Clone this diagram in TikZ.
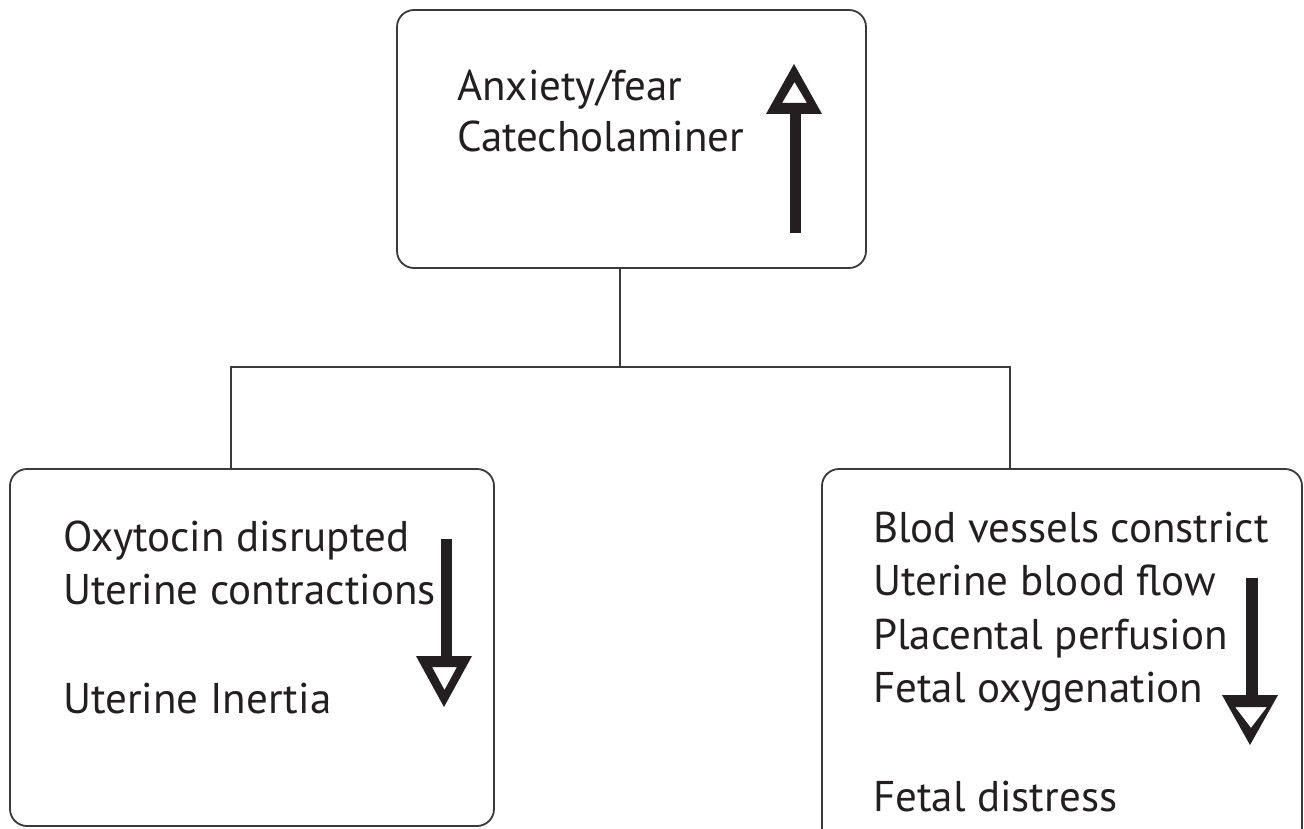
\documentclass[tikz,border=0pt]{standalone}
\usepackage{fontspec}
\setmainfont{PT Sans}
\definecolor{ink}{HTML}{231F20}
\definecolor{edge}{HTML}{3A3A3A}
\begin{document}
\begin{tikzpicture}[x=1pt,y=-1pt,
  box/.style={draw=edge, line width=1.8pt, rounded corners=17pt, rectangle, inner sep=0pt},
  txt/.style={anchor=base west, inner sep=0pt, text=ink, font=\fontsize{43}{50}\selectfont},
  link/.style={draw=edge, line width=1.8pt},
  shaft/.style={draw=ink, line width=11.5pt},
  head/.style={fill=ink, even odd rule}]
\clip (0,0) rectangle (1304,829);
\fill[white] (0,0) rectangle (1304,829);
% boxes
\node[box, minimum width=469pt, minimum height=258pt] (top) at (631.5,139) {};
\node[box, minimum width=484pt, minimum height=357pt] (lb) at (252,647.5) {};
\node[box, minimum width=480pt, minimum height=380pt] (rb) at (1062,659) {};
% connectors
\coordinate (j) at (620,367);
\coordinate (jl) at (231,367);
\coordinate (jr) at (1010,367);
\draw[link] (top.south -| j) -- (j);
\draw[link] (jl |- lb.north) -- (jl) -- (jr) -- (jr |- rb.north);
% texts
\node[txt] (t1) at (457,101) {Anxiety/fear};
\node[txt] (t2) at (457,152) {Catecholaminer};
\node[txt] (l1) at (63,551) {Oxytocin disrupted};
\node[txt] (l2) at (63,604) {Uterine contractions};
\node[txt] (l3) at (63,713) {Uterine Inertia};
\node[txt] (r1) at (873,542) {Blod vessels constrict};
\node[txt] (r2) at (873,595) {Uterine blood flow};
\node[txt] (r3) at (873,649) {Placental perfusion};
\node[txt] (r4) at (873,702) {Fetal oxygenation};
\node[txt] (r5) at (873,811) {Fetal distress};
% up arrow (top box)
\draw[shaft] (795.5,233) -- (795.5,110);
\fill[head] (766,114) -- (822,114) -- (794,64) -- cycle (782,103) -- (807,103) -- (794.5,82) -- cycle;
% down arrow (left box)
\draw[shaft] (446.5,539) -- (446.5,660);
\fill[head] (416,656) -- (472,656) -- (444,707) -- cycle (432,667) -- (457,667) -- (444.5,690) -- cycle;
% down arrow (right box)
\draw[shaft] (1252,578) -- (1252,699);
\fill[head] (1222,695) -- (1278,695) -- (1250,745) -- cycle (1235,707) -- (1267,707) -- (1251,728) -- cycle;
\end{tikzpicture}
\end{document}
